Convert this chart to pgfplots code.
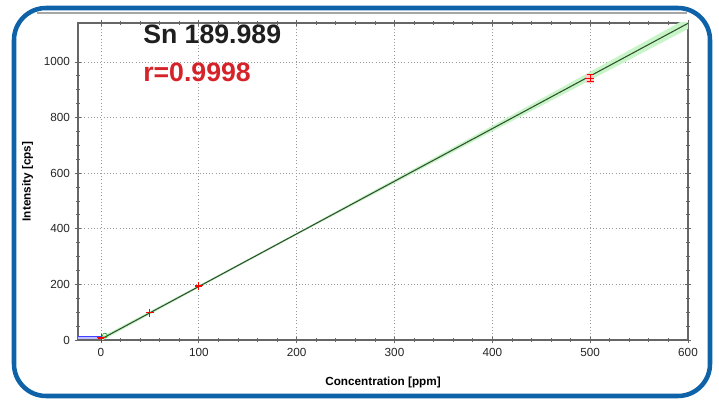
\documentclass[border=0pt]{standalone}
\usepackage{fontspec}
\setmainfont{Liberation Sans}
\usepackage{pgfplots}
\pgfplotsset{compat=1.18}
\definecolor{frameblue}{RGB}{14,98,168}
\definecolor{rred}{RGB}{214,35,42}
\definecolor{bandgreen}{RGB}{200,245,200}
\definecolor{linegreen}{RGB}{45,80,45}
\begin{document}
\begin{tikzpicture}[x=1pt,y=1pt]
\useasboundingbox (0,0) rectangle (539.25,300);
\fill[white] (0,0) rectangle (539.25,300);
\begin{axis}[at={(58.5pt,45pt)}, anchor=south west, scale only axis,
  width=457.5pt, height=237.75pt,
  xmin=-23.5, xmax=600, ymin=0, ymax=1140,
  xtick={0,100,...,600}, ytick={0,200,...,1000},
  minor x tick num=4, minor y tick num=3,
  tick align=center, major tick length=5pt, minor tick length=3pt,
  axis line style={black!60, line width=0.8pt},
  every tick/.style={black!60, line width=0.6pt},
  grid=major, major grid style={black!40, dotted, line width=0.6pt},
  ticklabel style={font=\fontsize{8.8}{10}\selectfont, text=black!85},
  /pgf/number format/assume math mode=true,
  /pgf/number format/1000 sep={},
  xlabel={Concentration [ppm]}, ylabel={Intensity [cps]},
  label style={font=\fontsize{8.8}{10}\selectfont\bfseries},
  xlabel style={at={(axis description cs:0.5,-0.142)}, anchor=base},
  ylabel style={at={(axis description cs:-0.0776,0.5)}, anchor=base},
]
% confidence band
\addplot[draw=none, fill=bandgreen] coordinates {
  (0,10) (100,196.8) (200,385.6) (300,577.9) (400,770.2) (500,964.5) (600,1158.8)
  (600,1118.8) (500,934.5) (400,750.2) (300,563.9) (200,377.6) (100,187.8) (0,-4)};
% blank region
\addplot[draw=none, fill=blue!25] coordinates {(-23.5,4) (0,4) (0,13) (-23.5,13)};
\addplot[blue!75, line width=1pt] coordinates {(-23.5,12) (0,12)};
% regression line
\addplot[linegreen, line width=0.8pt] coordinates {(2,6.8) (600,1138.8)};
% blank point
\addplot[only marks, mark=o, mark size=1.8pt, green!60!black] coordinates {(4,16)};
% error box at 500
\addplot[draw=none, fill=red!20] coordinates {(496,926) (504,926) (504,958) (496,958)};
% standards
\addplot[only marks, mark=+, mark size=3pt, red, line width=0.7pt,
  error bars/.cd, y dir=both, y explicit, error bar style={red, line width=0.7pt},
  error mark options={rotate=90, mark size=2.6pt, red}]
  coordinates {(0,8) +- (0,0) (50,98) +- (0,0) (100,195) +- (0,0) (500,942) +- (0,12)};
\end{axis}
\node[anchor=base west, inner sep=0, font=\fontsize{20}{24}\selectfont\bfseries, text=black!88] at (107.25,267) {Sn 189.989};
\node[anchor=base west, inner sep=0, font=\fontsize{20}{24}\selectfont\bfseries, text=rred] at (107.25,238.5) {r=0.9998};
\draw[black!35, line width=1.3pt] (28,290.25) -- (515,290.25);
\draw[frameblue, line width=3.4pt, rounded corners=24pt] (10.5,3) rectangle (532.5,294);
\end{tikzpicture}
\end{document}
